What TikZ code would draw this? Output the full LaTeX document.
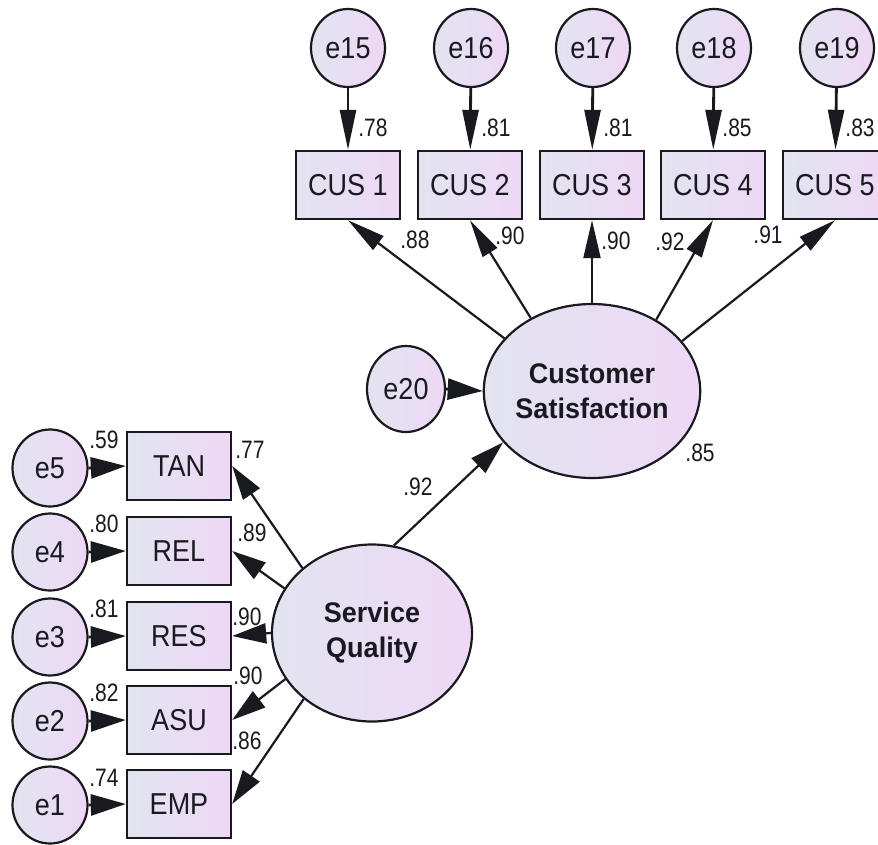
\documentclass[tikz,border=0pt]{standalone}
\usepackage{graphicx}
\usepackage{fontspec}
\setmainfont{Liberation Sans}
\usetikzlibrary{shapes.geometric,arrows.meta}
\definecolor{fillL}{RGB}{226,228,240}
\definecolor{fillR}{RGB}{238,216,246}
\definecolor{ink}{RGB}{25,25,32}
\newcommand\tl[1]{\scalebox{1}[1.12]{#1}}
\newcommand\cf[1]{\scalebox{1}[1.2]{#1}}
\newcommand\bl[1]{\scalebox{1}[1.05]{#1}}
\begin{document}
\begin{tikzpicture}[x=1pt,y=-1pt,
  errc/.style={ellipse,draw=ink,line width=2.2pt,left color=fillL,right color=fillR,
    minimum width=74pt,minimum height=78pt,inner sep=0pt,text=ink,
    font=\fontsize{27}{30}\selectfont},
  obsbox/.style={rectangle,draw=ink,line width=2.4pt,left color=fillL,right color=fillR,
    minimum width=104pt,minimum height=68pt,inner sep=0pt,text=ink,
    font=\fontsize{27}{30}\selectfont},
  latent/.style={ellipse,draw=ink,line width=2.2pt,left color=fillL,right color=fillR,
    minimum width=200pt,minimum height=176pt,inner sep=0pt,align=center,text=ink,
    font=\bfseries\fontsize{27}{35}\selectfont},
  vpath/.style={draw=ink,line width=2.2pt,-{Triangle[length=38pt,width=17pt]}},
  hpath/.style={draw=ink,line width=2.2pt,-{Triangle[length=34pt,width=20pt]}},
  epathv/.style={draw=ink,line width=2.8pt,-{Triangle[length=40pt,width=16pt]}},
  epathh/.style={draw=ink,line width=2.8pt,-{Triangle[length=35pt,width=21pt]}},
  coef/.style={inner sep=0pt,text=ink,font=\fontsize{21}{24}\selectfont}
]
\useasboundingbox (0,0) rectangle (878,844);
\clip (0,0) rectangle (878,844);

% top error terms and indicators
\node[errc] (e15) at (348,48) {\tl{e15}};
\node[errc] (e16) at (471,48) {\tl{e16}};
\node[errc] (e17) at (593,48) {\tl{e17}};
\node[errc] (e18) at (714,48) {\tl{e18}};
\node[errc] (e19) at (837,48) {\tl{e19}};
\node[obsbox] (cus1) at (348,185) {\tl{CUS 1}};
\node[obsbox] (cus2) at (470,185) {\tl{CUS 2}};
\node[obsbox] (cus3) at (592,185) {\tl{CUS 3}};
\node[obsbox] (cus4) at (713,185) {\tl{CUS 4}};
\node[obsbox] (cus5) at (835,185) {\tl{CUS 5}};

% latent variables
\node[latent,minimum width=201pt,minimum height=174pt] (cs) at (592,391) {\bl{Customer}\\\bl{Satisfaction}};
\node[latent,minimum width=200pt,minimum height=177pt] (sq) at (372,633) {\bl{Service}\\\bl{Quality}};
\node[errc,minimum width=78pt,minimum height=86pt] (e20) at (406,389) {\tl{e20}};

% left indicators and errors
\node[obsbox] (tan) at (179,466) {\tl{TAN}};
\node[obsbox] (rel) at (179,551) {\tl{REL}};
\node[obsbox] (res) at (179,636) {\tl{RES}};
\node[obsbox] (asu) at (179,720) {\tl{ASU}};
\node[obsbox] (emp) at (179,804) {\tl{EMP}};
\node[errc,minimum width=75pt,minimum height=77pt] (e5) at (50,468) {\tl{e5}};
\node[errc,minimum width=75pt,minimum height=77pt] (e4) at (50,552) {\tl{e4}};
\node[errc,minimum width=75pt,minimum height=77pt] (e3) at (50,637) {\tl{e3}};
\node[errc,minimum width=75pt,minimum height=77pt] (e2) at (50,721) {\tl{e2}};
\node[errc,minimum width=75pt,minimum height=77pt] (e1) at (50,805) {\tl{e1}};

% error arrows
\draw[epathv] (e15) -- (cus1);
\draw[epathv] (e16) -- (cus2);
\draw[epathv] (e17) -- (cus3);
\draw[epathv] (e18) -- (cus4);
\draw[epathv] (e19) -- (cus5);
\draw[epathh] (e5.east) -- (tan.west);
\draw[epathh] (e4.east) -- (rel.west);
\draw[epathh] (e3.east) -- (res.west);
\draw[epathh] (e2.east) -- (asu.west);
\draw[epathh] (e1.east) -- (emp.west);
\draw[epathh] (e20.east) -- (cs.west);

% loadings
\draw[vpath] (cs.149.6) -- (cus1.south);
\draw[vpath] (cs.130.9) -- (cus2.south);
\draw[vpath] (cs.90) -- (cus3.south);
\draw[vpath] (cs.48.7) -- (cus4.south);
\draw[vpath] (cs.29) -- (cus5.south);
\draw[hpath] (sq.137.5) -- (tan.east);
\draw[hpath] (sq.153.2) -- (rel.east);
\draw[hpath] (sq.180) -- (res.east);
\draw[hpath] (sq.208.8) -- (asu.east);
\draw[hpath] (sq.224.6) -- (emp.east);
\draw[hpath] (sq.76) -- (cs.210);

% coefficients
\node[coef] (c78) at (373,128) {\cf{.78}};
\node[coef] (c81a) at (496,128) {\cf{.81}};
\node[coef] (c81b) at (618,128) {\cf{.81}};
\node[coef] (c85a) at (737,128) {\cf{.85}};
\node[coef] (c83) at (860,128) {\cf{.83}};
\node[coef] (c88) at (415,240) {\cf{.88}};
\node[coef] (c90a) at (510,236) {\cf{.90}};
\node[coef] (c90b) at (616,241) {\cf{.90}};
\node[coef] (c92a) at (670,242) {\cf{.92}};
\node[coef] (c91) at (768,235) {\cf{.91}};
\node[coef] (c85b) at (700,453) {\cf{.85}};
\node[coef] (c92b) at (418,487) {\cf{.92}};
\node[coef] (c59) at (104,440) {\cf{.59}};
\node[coef] (c80) at (104,524) {\cf{.80}};
\node[coef] (c81c) at (104,609) {\cf{.81}};
\node[coef] (c82) at (104,693) {\cf{.82}};
\node[coef] (c74) at (104,778) {\cf{.74}};
\node[coef] (c77) at (250,450) {\cf{.77}};
\node[coef] (c89) at (252,533) {\cf{.89}};
\node[coef] (c90c) at (247,617) {\cf{.90}};
\node[coef] (c90d) at (248,676) {\cf{.90}};
\node[coef] (c86) at (247,741) {\cf{.86}};
\end{tikzpicture}
\end{document}
